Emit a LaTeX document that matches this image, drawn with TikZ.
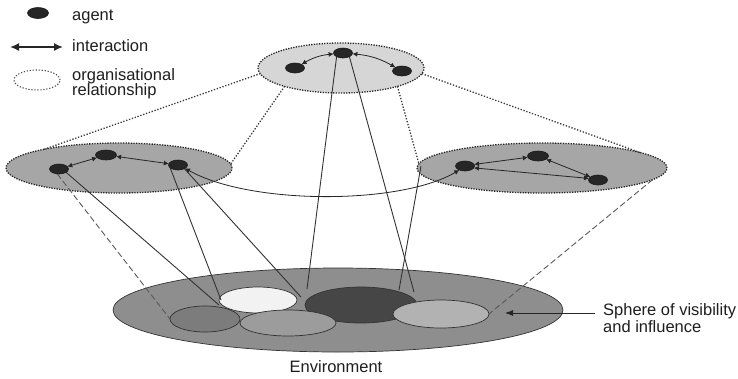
\documentclass[tikz,border=0pt]{standalone}
\usepackage{fontspec}
\setmainfont{Liberation Sans}
\usetikzlibrary{shapes.geometric,arrows.meta}
\pgfdeclarelayer{back}
\pgfdeclarelayer{mid}
\pgfsetlayers{back,mid,main}
\definecolor{ink}{HTML}{1E1E1E}
\definecolor{envgray}{HTML}{8E8E8E}
\definecolor{dk}{HTML}{464646}
\definecolor{li}{HTML}{7C7C7C}
\definecolor{mi}{HTML}{9C9C9C}
\definecolor{ri}{HTML}{B2B2B2}
\definecolor{wh}{HTML}{F2F2F2}
\definecolor{gtop}{HTML}{D6D6D6}
\definecolor{gside}{HTML}{A6A6A6}
\begin{document}
\begin{tikzpicture}[x=1pt,y=-1pt,
  font=\fontsize{16.5}{17}\selectfont,
  txt/.style={text=ink,inner sep=0pt,anchor=base west},
  agent/.style={ellipse,fill=black!85,draw=black!90,line width=0.6pt,minimum width=19pt,minimum height=10pt,inner sep=0pt,outer sep=0pt},
  grp/.style={ellipse,draw=black!85,line width=1.3pt,dash pattern=on 1.3pt off 1.3pt,inner sep=0pt,outer sep=0pt},
  sphere/.style={ellipse,draw=black!80,line width=0.7pt,inner sep=0pt,outer sep=0pt},
  link/.style={draw=black!80,line width=0.9pt},
  dashlink/.style={draw=black!65,line width=0.9pt,dash pattern=on 6pt off 3pt},
  org/.style={draw=black!78,line width=1.3pt,dash pattern=on 1.3pt off 1.7pt},
  ia/.style={draw=black!85,line width=0.8pt,{Latex[length=5pt,width=5pt]}-{Latex[length=5pt,width=5pt]}},
]
\useasboundingbox (0,0) rectangle (738,378);

% ---------- ellipses ----------
\begin{pgfonlayer}{back}
\node[sphere,fill=envgray,minimum width=450pt,minimum height=84pt] (env) at (338,310) {};
\node[sphere,fill=wh,minimum width=78pt,minimum height=26pt] (W) at (258,300) {};
\node[sphere,fill=dk,minimum width=112pt,minimum height=36pt] (D) at (361,305) {};
\node[sphere,fill=li,minimum width=70pt,minimum height=26pt] (LI) at (205,319) {};
\node[sphere,fill=mi,minimum width=96pt,minimum height=26pt] (MI) at (288,323) {};
\node[sphere,fill=ri,minimum width=96pt,minimum height=28pt] (RI) at (441,314) {};
\node[grp,fill=gtop,minimum width=166pt,minimum height=50pt] (T) at (341,68) {};
\node[grp,fill=gside,minimum width=226pt,minimum height=50pt] (L) at (119,168) {};
\node[grp,fill=gside,minimum width=250pt,minimum height=50pt] (R) at (542,168) {};
\end{pgfonlayer}

% ---------- agents ----------
\node[agent] (T1) at (295,68) {};
\node[agent] (T2) at (343,53) {};
\node[agent] (T3) at (402,71) {};
\node[agent] (A1) at (59,169) {};
\node[agent,minimum width=21pt] (A2) at (106,155) {};
\node[agent] (A3) at (178,165) {};
\node[agent] (B1) at (465,166) {};
\node[agent,minimum width=21pt] (B2) at (538,156) {};
\node[agent] (B3) at (598,180) {};

% ---------- end points in the environment ----------
\coordinate (eb) at (219,305);
\coordinate (ec) at (221,300);
\coordinate (ed) at (301,297);
\coordinate (et1) at (307,289);
\coordinate (et2) at (414,292);
\coordinate (rb) at (421,166);
\coordinate (eB) at (399,290);

\begin{pgfonlayer}{mid}
% organisational relationships
\draw[org] (L.166) -- (T.184);
\draw[org] (T.198) -- (L.2);
\draw[org] (T.342) -- (R.178);
\draw[org] (T.356) -- (R.9);
% spheres of influence
\draw[dashlink] (A1.250) -- (LI.west);
\draw[link] (A1.-25) -- (eb);
\draw[link] (A3.200) -- (ec);
\draw[link] (A3.-30) -- (ed);
\draw[link] (T2.210) -- (et1);
\draw[link] (T2.-30) -- (et2);
\draw[link] (rb) -- (eB);
\draw[dashlink] (R.-6) -- (RI.east);
\end{pgfonlayer}

% ---------- interactions ----------
\draw[ia] (T1) to[bend left=12] (T2);
\draw[ia] (T2) to[bend left=12] (T3);
\draw[ia] (A1) -- (A2);
\draw[ia] (A2) -- (A3);
\draw[ia] (B1.10) -- (B2);
\draw[ia] (B2) -- (B3);
\draw[ia] (B1.-12) -- (B3.170);
\draw[ia] (A3.-25) .. controls (250,205) and (400,205) .. (B1.215);

% ---------- legend ----------
\node[agent,minimum width=21pt,minimum height=11pt] (lgA) at (38,13) {};
\node[txt] (lgAt) at (72,20.5) {agent};
\coordinate (lgI1) at (10,47);
\coordinate (lgI2) at (63,47);
\draw[draw=black!85,line width=1.6pt,{Latex[length=9pt,width=8pt]}-{Latex[length=9pt,width=8pt]}] (lgI1) -- (lgI2);
\node[txt] (lgIt) at (72,51.5) {interaction};
\node[ellipse,draw=black!70,line width=1.1pt,dash pattern=on 1.2pt off 1.8pt,minimum width=46pt,minimum height=20pt,inner sep=0pt] (lgO) at (37,80) {};
\node[txt] (lgOt1) at (72,80) {organisational};
\node[txt] (lgOt2) at (72,95.5) {relationship};

% ---------- labels ----------
\node[text=ink,inner sep=0pt,anchor=base] (envt) at (336,372) {Environment};
\node[txt] (sph1) at (603,315) {Sphere of visibility};
\node[txt] (sph2) at (603,332) {and influence};
\coordinate (sphA) at (595,313);
\coordinate (sphB) at (505,313);
\draw[draw=black!85,line width=0.8pt,-{Latex[length=8pt,width=6pt]}] (sphA) -- (sphB);
\end{tikzpicture}
\end{document}
